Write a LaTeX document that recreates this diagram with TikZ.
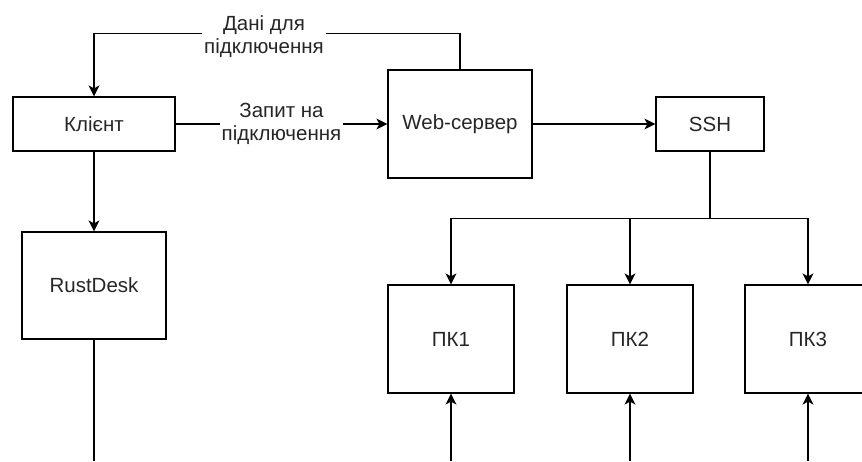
\documentclass[tikz,border=0pt]{standalone}
\usepackage{fontspec}
\setmainfont{Liberation Sans}
\usepackage{xcolor}
\usetikzlibrary{arrows.meta, positioning, calc}

\begin{document}
\begin{tikzpicture}[
    x=1pt, y=-1pt,
    block/.style={rectangle, draw, line width=1.2pt, inner sep=0pt, align=center, font=\fontsize{20.5}{23}\selectfont, text=black!85},
    small/.style={block, minimum width=162pt, minimum height=54pt},
    big/.style={block, minimum width=144pt, minimum height=108pt},
    pc/.style={block, minimum width=126pt, minimum height=108pt},
    lbl/.style={fill=white, inner sep=2pt, align=center, font=\fontsize{20.5}{23}\selectfont, text=black!85},
    arrow/.style={-{Stealth[length=11pt, width=11pt, inset=3pt]}, line width=1.2pt},
    line/.style={line width=1.2pt}
]

    % --- Frame ---
    \useasboundingbox (0,0) rectangle (862,461);
    \clip (0,0) rectangle (862,461);

    % --- Top row ---
    \node[small] (klient) at (94,124) {Клієнт};
    \node[big] (web) at (460,124) {Web-сервер};
    \node[small, minimum width=108pt] (ssh) at (710,124) {SSH};

    % --- Left column ---
    \node[big, minimum height=107pt] (rust) at (94,285.5) {RustDesk};

    % --- Computers ---
    \node[pc] (pk1) at (451,339) {ПК1};
    \node[pc] (pk2) at (630,339) {ПК2};
    \node[pc] (pk3) at (808,339) {ПК3};

    % Free ends at the bottom edge
    \coordinate (rust-end) at (94,461);
    \coordinate (pk1-in) at (451,461);
    \coordinate (pk2-in) at (630,461);
    \coordinate (pk3-in) at (808,461);

    % --- Connections ---
    \draw[arrow] (web.north) -- ++(0,-36) -| (klient.north);
    \node[lbl] (lbl-data) at (264,37) {Дані для\\підключення};

    \draw[arrow] (klient) -- node[lbl] (lbl-req) {Запит на\\підключення} (web);
    \draw[arrow] (klient) -- (rust);
    \draw[arrow] (web) -- (ssh);

    % Fork to computers
    \draw[arrow] (ssh.south) |- ++(0,67) -| (pk1.north);
    \draw[arrow] (ssh.south) |- ++(0,67) -| (pk2.north);
    \draw[arrow] (ssh.south) |- ++(0,67) -| (pk3.north);

    % Bottom
    \draw[line] (rust) -- (rust-end);
    \draw[arrow] (pk1-in) -- (pk1);
    \draw[arrow] (pk2-in) -- (pk2);
    \draw[arrow] (pk3-in) -- (pk3);

\end{tikzpicture}
\end{document}
